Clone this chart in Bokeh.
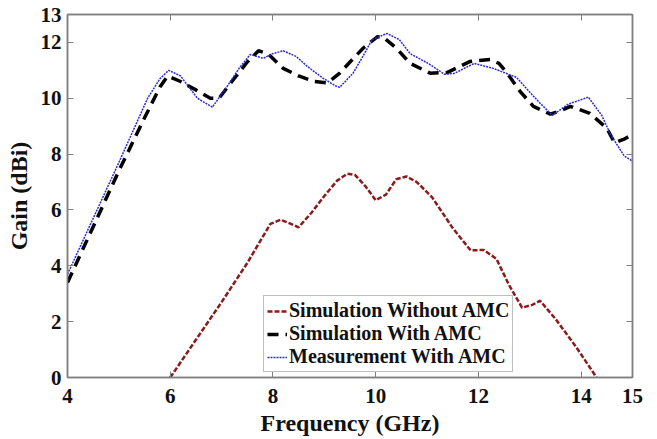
from bokeh.plotting import figure
from bokeh.models import LinearAxis, FixedTicker, Range1d, Legend, LegendItem
from bokeh.embed import file_html
from bokeh.resources import INLINE

# Simulation without AMC
sim_wo_x = [6.0, 6.5, 7.0, 7.5, 7.95, 8.15, 8.35, 8.5, 8.75, 9.0, 9.25, 9.45, 9.6, 9.8, 10.0,
            10.2, 10.4, 10.6, 10.8, 11.1, 11.5, 11.85, 12.1, 12.35, 12.6, 12.85, 13.05, 13.2,
            13.5, 13.9, 14.3]
sim_wo_y = [0.0, 1.35, 2.7, 4.1, 5.5, 5.65, 5.5, 5.38, 5.9, 6.5, 7.05, 7.3, 7.25, 6.85, 6.35,
            6.55, 7.1, 7.2, 7.0, 6.45, 5.35, 4.55, 4.57, 4.25, 3.3, 2.5, 2.6, 2.75,
            2.1, 1.1, 0.0]

# Simulation with AMC
sim_w_x = [4.0, 4.5, 5.0, 5.5, 5.8, 5.95, 6.2, 6.5, 6.78, 6.95, 7.2, 7.5, 7.72, 7.9, 8.2,
           8.5, 8.8, 9.06, 9.3, 9.5, 9.76, 10.03, 10.15, 10.4, 10.67, 11.06, 11.4, 11.84,
           12.23, 12.4, 12.56, 12.81, 13.07, 13.4, 13.6, 13.79, 14.17, 14.5, 14.65, 14.85, 15.0]
sim_w_y = [3.4, 5.4, 7.4, 9.3, 10.4, 10.8, 10.6, 10.3, 10.0, 10.0, 10.6, 11.3, 11.7, 11.6, 11.07,
           10.8, 10.6, 10.55, 10.9, 11.3, 11.8, 12.2, 12.18, 11.8, 11.25, 10.9, 10.93, 11.32,
           11.39, 11.25, 10.9, 10.25, 9.71, 9.43, 9.55, 9.71, 9.46, 8.93, 8.4, 8.55, 8.7]

# Measurement with AMC
meas_x = [4.0, 4.5, 5.0, 5.56, 5.8, 5.97, 6.2, 6.53, 6.82, 7.11, 7.35, 7.56, 7.81, 8.0, 8.2,
          8.45, 8.67, 8.95, 9.21, 9.3, 9.56, 9.75, 9.93, 10.22, 10.46, 10.67, 11.02, 11.34,
          11.53, 11.92, 12.29, 12.74, 12.93, 13.18, 13.44, 13.75, 14.14, 14.4, 14.58, 14.84, 15.0]
meas_y = [3.7, 5.7, 7.7, 10.0, 10.7, 11.0, 10.8, 10.0, 9.68, 10.43, 11.1, 11.57, 11.43, 11.6, 11.7,
          11.5, 11.14, 10.75, 10.45, 10.39, 10.9, 11.5, 12.1, 12.32, 12.1, 11.6, 11.25, 10.86,
          10.89, 11.25, 11.07, 10.75, 10.36, 9.86, 9.39, 9.79, 10.04, 9.39, 8.68, 7.93, 7.75]

x_ticks = [4, 6, 8, 10, 12, 14, 15]
y_ticks = [0, 2, 4, 6, 8, 10, 12, 13]
labels = ["Simulation Without AMC", "Simulation With AMC", "Measurement With AMC"]

FONT = "Liberation Serif"
GREY = "#808080"

p = figure(width=650, height=439, output_backend="svg", toolbar_location=None,
           x_range=Range1d(4, 15), y_range=Range1d(0, 13),
           min_border_left=67, min_border_right=18, min_border_top=14, min_border_bottom=62,
           x_axis_label="Frequency (GHz)", y_axis_label="Gain (dBi)")
p.grid.visible = False
p.outline_line_color = GREY
p.outline_line_width = 1.5
p.background_fill_color = "white"
p.border_fill_color = "white"

for ax, ticks in ((p.xaxis[0], x_ticks), (p.yaxis[0], y_ticks)):
    ax.ticker = FixedTicker(ticks=ticks)
    ax.major_tick_in = 6
    ax.major_tick_out = 0
    ax.minor_tick_in = 0
    ax.minor_tick_out = 0
    ax.axis_line_color = GREY
    ax.axis_line_width = 1.5
    ax.major_tick_line_color = GREY
    ax.major_label_text_font = FONT
    ax.major_label_text_font_style = "bold"
    ax.major_label_text_font_size = "21px"
    ax.major_label_text_color = "#111111"
    ax.axis_label_text_font = FONT
    ax.axis_label_text_font_style = "bold"
    ax.axis_label_text_font_size = "24px"
    ax.axis_label_text_color = "#111111"

p.xaxis[0].major_label_standoff = 11
p.xaxis[0].axis_label_standoff = 4
p.yaxis[0].major_label_standoff = 6
p.yaxis[0].axis_label_standoff = 6

for loc, ticks in (("above", x_ticks), ("right", y_ticks)):
    ax = LinearAxis(ticker=FixedTicker(ticks=ticks), major_tick_in=6, major_tick_out=0,
                    minor_tick_in=0, minor_tick_out=0,
                    major_label_overrides={t: "" for t in ticks},
                    major_label_standoff=0, axis_line_color=GREY, axis_line_width=1.5,
                    major_tick_line_color=GREY)
    p.add_layout(ax, loc)

r1 = p.line(sim_wo_x, sim_wo_y, line_color="#8b1a1a", line_width=2.5, line_dash="5 2")
r2 = p.line(sim_w_x, sim_w_y, line_color="black", line_width=3.5, line_dash="11 7")
r3 = p.line(meas_x, meas_y, line_color="#2a2ad0", line_width=1.5, line_dash="2 1")

legend = Legend(items=[LegendItem(label=labels[0], renderers=[r1]),
                       LegendItem(label=labels[1], renderers=[r2]),
                       LegendItem(label=labels[2], renderers=[r3])],
                location=(196, 5))
legend.label_text_font = FONT
legend.label_text_font_style = "bold"
legend.label_text_font_size = "20px"
legend.label_text_color = "#111111"
legend.glyph_width = 20
legend.glyph_height = 18
legend.label_height = 18
legend.label_standoff = 2
legend.spacing = -4
legend.padding = 3
legend.margin = 0
legend.border_line_color = GREY
legend.border_line_width = 1.5
legend.background_fill_alpha = 1
p.add_layout(legend, "center")

open("out.html", "w").write(file_html(p, INLINE))
